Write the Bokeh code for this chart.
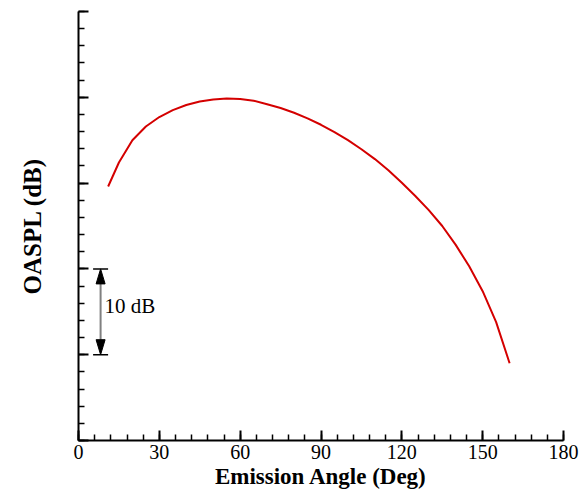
from bokeh.plotting import figure
from bokeh.models import FixedTicker
from bokeh.embed import file_html
from bokeh.resources import INLINE

# Data (OASPL, dB; y axis carries no labels)
angles = [11, 15, 20, 25, 30, 35, 40, 45, 50, 55, 60, 65, 70, 75, 80, 85, 90,
          95, 100, 105, 110, 115, 120, 125, 130, 135, 140, 145, 150, 155, 160]
oaspl = [89.6, 92.4, 95.0, 96.6, 97.7, 98.5, 99.1, 99.5, 99.75, 99.85, 99.8,
         99.6, 99.2, 98.75, 98.2, 97.55, 96.8, 95.95, 95.0, 93.95, 92.8, 91.5,
         90.05, 88.5, 86.85, 85.0, 82.8, 80.3, 77.4, 73.8, 69.0]
x_ticks = [0, 30, 60, 90, 120, 150, 180]
y_ticks = [60, 70, 80, 90, 100, 110]
scale_low, scale_high = 70, 80
scale_text = "10 dB"

W, H = 579, 495
L, R, T, B = 78, 16, 11, 55
x0, x1 = 0, 180
y0, y1 = 60, 110
px_x = (W - L - R) / (x1 - x0)
px_y = (H - T - B) / (y1 - y0)

p = figure(width=W, height=H, x_range=(x0, x1), y_range=(y0, y1),
           output_backend="svg", toolbar_location=None,
           min_border_left=L, min_border_right=R, min_border_top=T, min_border_bottom=B)
p.outline_line_color = None
p.grid.visible = False
p.background_fill_color = "white"
p.border_fill_color = "white"

p.line(angles, oaspl, line_color="#d40000", line_width=2)

serif = "Liberation Serif"
xa = p.xaxis[0]
xa.ticker = FixedTicker(ticks=x_ticks, minor_ticks=list(range(0, 181, 6)))
xa.axis_label = "Emission Angle (Deg)"
ya = p.yaxis[0]
ya.ticker = FixedTicker(ticks=y_ticks, minor_ticks=list(range(60, 111, 2)))
ya.axis_label = "OASPL (dB)"
ya.major_label_overrides = {v: "" for v in y_ticks}
for ax in (xa, ya):
    ax.axis_line_width = 2
    ax.axis_line_color = "black"
    ax.major_tick_in = 10
    ax.major_tick_out = 0
    ax.minor_tick_in = 6
    ax.minor_tick_out = 0
    ax.major_tick_line_width = 2
    ax.minor_tick_line_width = 1.5
    ax.major_tick_line_color = "black"
    ax.minor_tick_line_color = "black"
    ax.major_label_text_font = serif
    ax.major_label_text_color = "black"
    ax.major_label_text_font_size = "20px"
    ax.axis_label_text_font = serif
    ax.axis_label_text_font_style = "bold"
    ax.axis_label_text_color = "black"
xa.axis_label_text_font_size = "23px"
ya.axis_label_text_font_size = "25px"
xa.major_label_standoff = 4
xa.axis_label_standoff = 2
ya.major_label_standoff = 0
ya.axis_label_standoff = 33

# 10 dB scale marker
xc = 8.2
bar_half = 7.5 / px_x
p.segment(x0=[xc - bar_half, xc - bar_half], y0=[scale_low, scale_high],
          x1=[xc + bar_half, xc + bar_half], y1=[scale_low, scale_high],
          line_color="black", line_width=1.5)
head_len = 15 / px_y
head_hw = 4.5 / px_x
p.segment(x0=[xc], y0=[scale_low + head_len], x1=[xc], y1=[scale_high - head_len],
          line_color="#808080", line_width=2)
p.patches(xs=[[xc, xc - head_hw, xc + head_hw], [xc, xc - head_hw, xc + head_hw]],
          ys=[[scale_high, scale_high - head_len, scale_high - head_len],
              [scale_low, scale_low + head_len, scale_low + head_len]],
          fill_color="black", line_color="black", line_width=1)
p.text(x=[xc + 4 / px_x], y=[(scale_low + scale_high) / 2 + 6 / px_y], text=[scale_text],
       text_font=serif, text_font_size="21px", text_baseline="middle",
       text_align="left", text_color="black")

open("out.html", "w").write(file_html(p, INLINE))
